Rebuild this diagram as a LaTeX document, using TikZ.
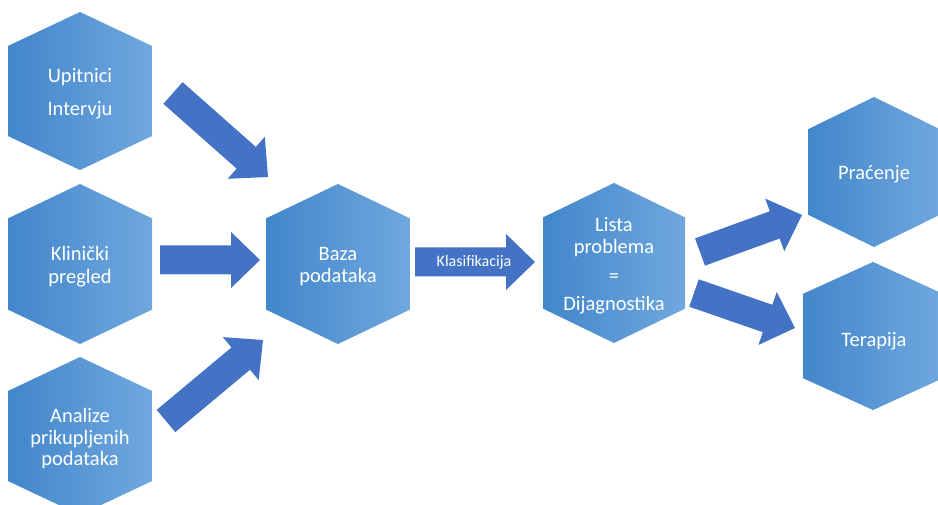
\documentclass[tikz,border=0pt]{standalone}
\usepackage{fontspec}
\setmainfont{Carlito}
\usetikzlibrary{calc}
\definecolor{hexL}{RGB}{66,134,203}
\definecolor{hexR}{RGB}{112,168,222}
\definecolor{arrowblue}{RGB}{68,114,196}
\tikzset{
  hexfill/.style={left color=hexL, right color=hexR, draw=none},
  hextext/.style={text=white, font=\fontsize{20.5}{23.5}\selectfont, align=center, inner sep=0pt},
  arrowfill/.style={fill=arrowblue, draw=none},
  arrowtext/.style={text=white, font=\fontsize{16}{18}\selectfont, inner sep=0pt},
}
% #1 name, #2 x, #3 y, #4 half width, #5 half height, #6 text
\newcommand\hexa[6]{%
  \path[hexfill] (#2,#3-#5) -- (#2+#4,#3-0.57*#5) -- (#2+#4,#3+0.57*#5) -- (#2,#3+#5)
    -- (#2-#4,#3+0.57*#5) -- (#2-#4,#3-0.57*#5) -- cycle;
  \node[hextext] (#1) at (#2,#3+2.5) {#6};}
% block arrow from coordinate #1 to coordinate #2
\newcommand\blockarrow[2]{%
  \coordinate (hb) at ($(#2)!29pt!(#1)$);
  \fill[arrowfill] ($(#1)!14.5pt!90:(#2)$) -- ($(hb)!14.5pt!90:(#2)$) -- ($(hb)!28pt!90:(#2)$)
    -- (#2) -- ($(hb)!28pt!-90:(#2)$) -- ($(hb)!14.5pt!-90:(#2)$) -- ($(#1)!14.5pt!-90:(#2)$) -- cycle;}
\begin{document}
\begin{tikzpicture}[x=1pt,y=-1pt]
\useasboundingbox (0,0) rectangle (938,505);
\clip (0,0) rectangle (938,505);
\fill[white] (0,0) rectangle (938,505);

\hexa{upit}{80}{91}{72}{79}{Upitnici\\[9pt]Intervju}
\hexa{klin}{80}{264}{72}{80}{Klinički\\[-0.5pt]pregled}
\hexa{anal}{80}{436}{72}{79}{Analize\\[-2pt]prikupljenih\\[-2.5pt]podataka}
\hexa{baza}{338}{264}{72}{80}{Baza\\[-1pt]podataka}
\hexa{lista}{614}{263}{71}{80}{Lista\\[-1.5pt]problema\\[6pt]=\\[4.5pt]Dijagnostika}
\hexa{prac}{874}{172}{66}{75}{Praćenje}
\hexa{ter}{873}{336}{70}{74}{}
\node[hextext] (tert) at (874,341) {Terapija};

\coordinate (a1s) at (173,93);  \coordinate (a1e) at (268,177);
\coordinate (a2s) at (160,260); \coordinate (a2e) at (260,260);
\coordinate (a3s) at (166,421); \coordinate (a3e) at (263,340);
\coordinate (aks) at (415,262); \coordinate (ake) at (535,262);
\coordinate (aps) at (700,252); \coordinate (ape) at (802,215);
\coordinate (ats) at (694,293); \coordinate (ate) at (795,328);

\blockarrow{a1s}{a1e}
\blockarrow{a2s}{a2e}
\blockarrow{a3s}{a3e}
\blockarrow{aks}{ake}
\blockarrow{aps}{ape}
\blockarrow{ats}{ate}
\node[arrowtext] (klas) at (474,262) {Klasifikacija};
\end{tikzpicture}
\end{document}
